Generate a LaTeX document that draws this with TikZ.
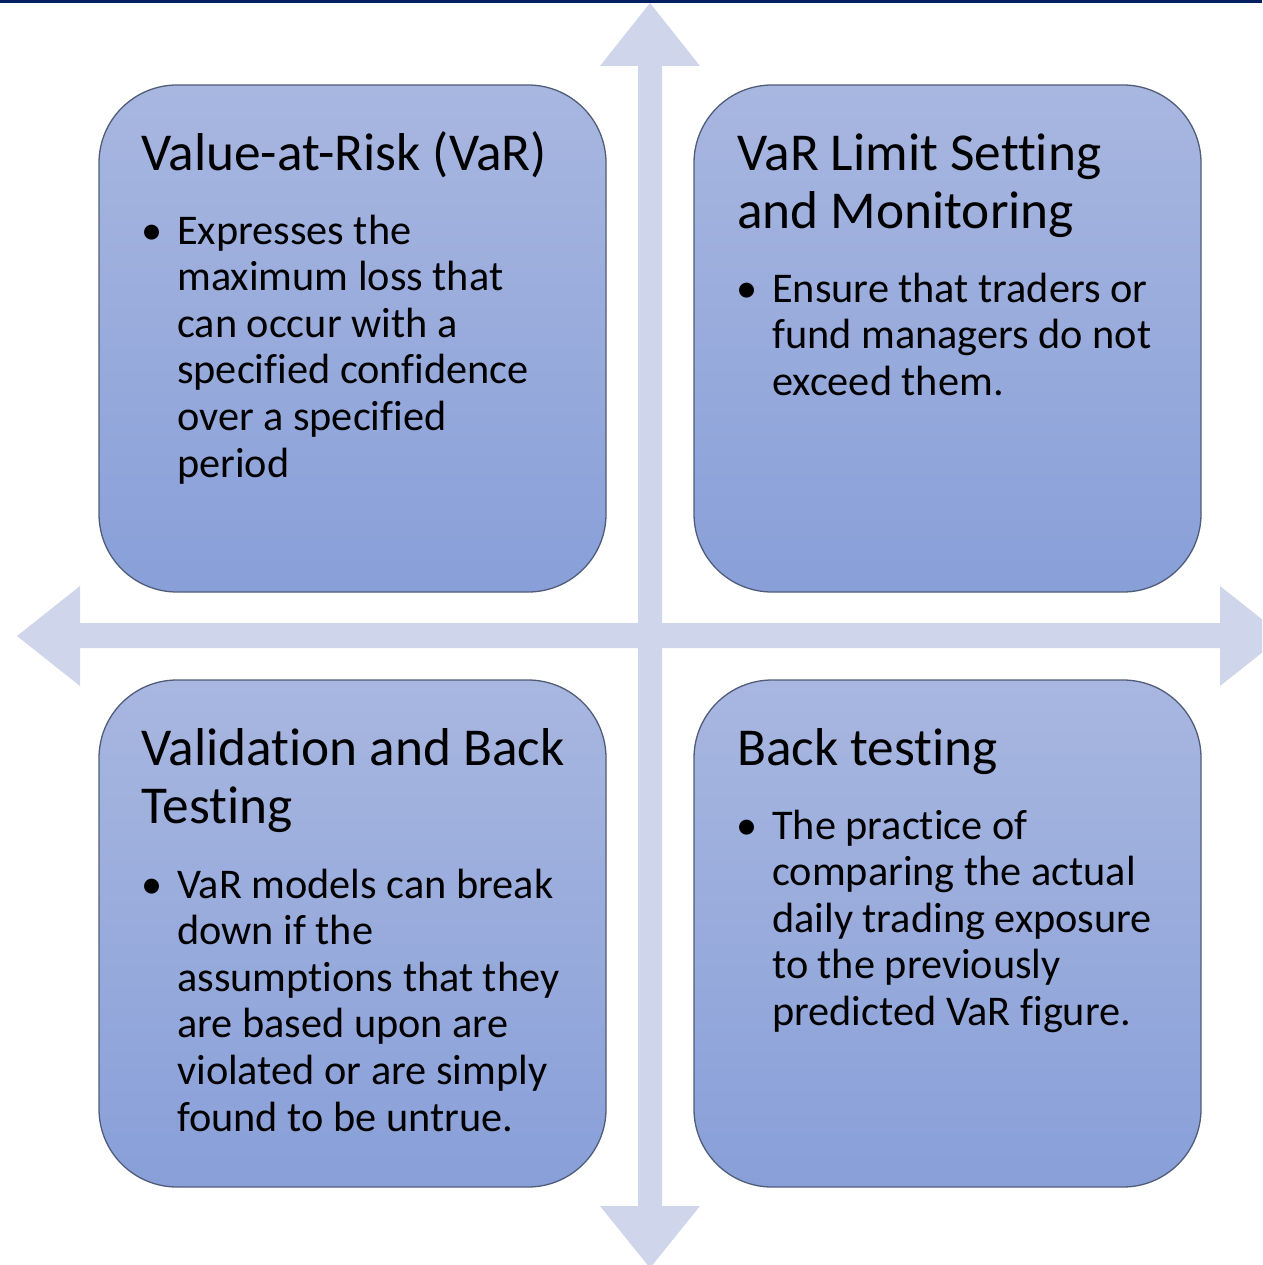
\documentclass[tikz,border=0pt]{standalone}
\usepackage{fontspec}
\setmainfont[Ligatures=NoCommon]{Carlito}
\definecolor{boxtop}{RGB}{168,183,224}
\definecolor{boxbot}{RGB}{136,159,216}
\definecolor{boxline}{RGB}{80,92,120}
\definecolor{arrowfill}{RGB}{207,213,234}
\definecolor{navy}{RGB}{0,32,96}
\begin{document}
\begin{tikzpicture}[x=1pt,y=-1pt,
  box/.style={draw=boxline, line width=1.3pt, rounded corners=78pt, top color=boxtop, bottom color=boxbot, minimum width=507pt, minimum height=507pt, inner sep=0pt},
  ttl/.style={anchor=base west, inner sep=0pt, align=left, font=\fontsize{53.3}{58}\selectfont},
  bodytext/.style={anchor=base west, inner sep=0pt, align=left, font=\fontsize{42.3}{46.6}\selectfont},
  bul/.style={anchor=base west, inner sep=0pt, font=\fontsize{42.3}{46.6}\selectfont},
]
\useasboundingbox (0,0) rectangle (1262,1265);
\begin{scope}
\clip (0,0) rectangle (1262,1265);
\fill[arrowfill] (638,66) -- (600,66) -- (650,3) -- (700,66) -- (662,66) -- (662,623) -- (1220,623) -- (1220,586) -- (1283,636) -- (1220,686) -- (1220,648) -- (662,648) -- (662,1206) -- (700,1206) -- (650,1268) -- (600,1206) -- (638,1206) -- (638,648) -- (80,648) -- (80,686) -- (17,636) -- (80,586) -- (80,623) -- (638,623) -- cycle;
\fill[navy] (0,0) rectangle (1262,3.5);
\end{scope}
\node[box] (tl) at (352.5,338.5) {};
\node[box] (tr) at (947.5,338.5) {};
\node[box] (bl) at (352.5,933.5) {};
\node[box] (br) at (947.5,933.5) {};
% top-left (base anchor = last line baseline)
\node[ttl] (tlt) at (141,171) {Value-at-Risk (VaR)};
\node[bul] (tlb) at (141,244) {•};
\node[bodytext] (tlx) at (177,477) {Expresses the\\maximum loss that\\can occur with a\\specified confidence\\over a specified\\period};
% top-right
\node[ttl] (trt) at (737,229) {VaR Limit Setting\\and Monitoring};
\node[bul] (trb) at (736,302) {•};
\node[bodytext] (trx) at (772,395.2) {Ensure that traders or\\fund managers do not\\exceed them.};
% bottom-left
\node[ttl] (blt) at (141,823) {Validation and Back\\Testing};
\node[bul] (blb) at (141,898) {•};
\node[bodytext] (blx) at (177,1131) {VaR models can break\\down if the\\assumptions that they\\are based upon are\\violated or are simply\\found to be untrue.};
% bottom-right
\node[ttl] (brt) at (737,765) {Back testing};
\node[bul] (brb) at (736,839) {•};
\node[bodytext] (brx) at (772,1025.4) {The practice of\\comparing the actual\\daily trading exposure\\to the previously\\predicted VaR figure.};
\end{tikzpicture}
\end{document}
